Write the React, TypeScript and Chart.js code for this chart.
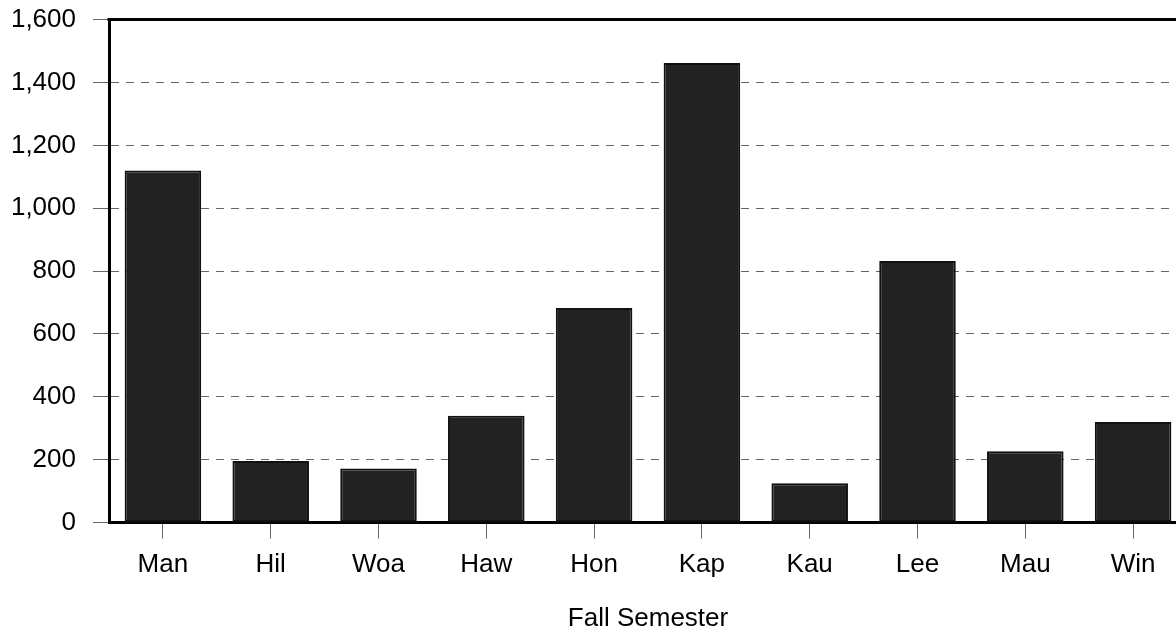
import React, { useEffect, useRef } from "react";
import { Chart, registerables } from "chart.js";

Chart.register(...registerables);

const categories = ["Man", "Hil", "Woa", "Haw", "Hon", "Kap", "Kau", "Lee", "Mau", "Win"];
const enrollment = [1120, 196, 172, 340, 683, 1462, 125, 832, 227, 320];
const yMax = 1600;
const yStep = 200;
const xAxisTitle = "Fall Semester";

const FONT = "'Liberation Sans', Arial, sans-serif";

const topBorder = {
  id: "topBorder",
  afterDraw(chart: any) {
    const { ctx, chartArea } = chart;
    ctx.save();
    ctx.strokeStyle = "#000";
    ctx.lineWidth = 3;
    ctx.beginPath();
    ctx.moveTo(chartArea.left - 1.5, chartArea.top);
    ctx.lineTo(chartArea.right, chartArea.top);
    ctx.stroke();
    ctx.restore();
  },
};

export default function App() {
  const ref = useRef<HTMLCanvasElement>(null);
  useEffect(() => {
    if (!ref.current) return;
    const chart = new Chart(ref.current, {
      type: "bar",
      data: {
        labels: categories,
        datasets: [
          {
            data: enrollment,
            backgroundColor: "#222222",
            borderColor: "#111111",
            borderWidth: 2,
            borderSkipped: false,
            barPercentage: 0.71,
            categoryPercentage: 1,
          },
        ],
      },
      options: {
        responsive: false,
        animation: false,
        layout: { padding: { top: 7, left: 0, right: 0, bottom: 0 } },
        plugins: { legend: { display: false }, tooltip: { enabled: false } },
        scales: {
          x: {
            grid: {
              display: true,
              offset: false,
              drawOnChartArea: false,
              drawTicks: true,
              tickLength: 16,
              tickColor: "#666",
              color: "#666",
            },
            border: { display: true, color: "#000", width: 3 },
            ticks: {
              color: "#000",
              padding: 11,
              font: { family: FONT, size: 26 },
              maxRotation: 0,
            },
            title: {
              display: true,
              text: xAxisTitle,
              color: "#000",
              font: { family: FONT, size: 26 },
              padding: { top: 11, bottom: 4 },
            },
          },
          y: {
            min: 0,
            max: yMax,
            afterFit: (scale: any) => {
              scale.width = 109;
            },
            grid: {
              color: "#666",
              lineWidth: 1,
              tickLength: 16,
              tickColor: "#666",
              tickBorderDash: [],
            },
            border: { display: true, color: "#000", width: 3, dash: [8, 7] },
            ticks: {
              stepSize: yStep,
              color: "#000",
              padding: 17,
              font: { family: FONT, size: 26 },
              callback: (v: any) => Number(v).toLocaleString("en-US"),
            },
          },
        },
      },
      plugins: [topBorder],
    });
    return () => chart.destroy();
  }, []);
  return (
    <div style={{ position: "absolute", left: 0, top: 0, width: 1176, height: 630, overflow: "hidden", background: "#fff" }}>
      <canvas ref={ref} width={1187} height={651} style={{ display: "block", position: "absolute", left: 0, top: -13 }} />
    </div>
  );
}
